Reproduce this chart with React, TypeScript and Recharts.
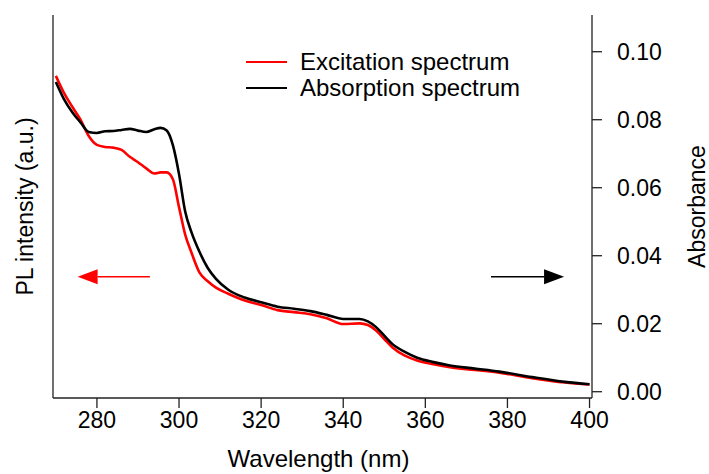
import React from 'react';
import { ComposedChart, Line, XAxis, YAxis, ReferenceLine, Legend } from 'recharts';

const wavelength = [270, 272, 274, 276, 278, 280, 282, 284, 286, 288, 290, 292, 294, 295.5, 297, 298.5, 300, 301.5, 303, 305, 307, 309, 312, 316, 320, 324, 328, 332, 336, 340, 344, 346, 348, 350, 352, 355, 358, 362, 366, 372, 378, 386, 394, 400];

const absorption = [0.0911, 0.0860, 0.0822, 0.0792, 0.0764, 0.0761, 0.0766, 0.0767, 0.0770, 0.0773, 0.0768, 0.0764, 0.0772, 0.0776, 0.0768, 0.0725, 0.0640, 0.0530, 0.0470, 0.0411, 0.0364, 0.0332, 0.0300, 0.0277, 0.0263, 0.0250, 0.0244, 0.0237, 0.0226, 0.0214, 0.0214, 0.0207, 0.0190, 0.0165, 0.0140, 0.0117, 0.0100, 0.0087, 0.0077, 0.0068, 0.0059, 0.0043, 0.0029, 0.0022];

const excitation = [0.0929, 0.0878, 0.0838, 0.0800, 0.0752, 0.0726, 0.0720, 0.0718, 0.0711, 0.0691, 0.0675, 0.0657, 0.0642, 0.0645, 0.0645, 0.0625, 0.0543, 0.0462, 0.0410, 0.0350, 0.0325, 0.0306, 0.0288, 0.0268, 0.0255, 0.0240, 0.0234, 0.0228, 0.0216, 0.0199, 0.0201, 0.0196, 0.0180, 0.0155, 0.0130, 0.0106, 0.0092, 0.0081, 0.0072, 0.0064, 0.0056, 0.0040, 0.0027, 0.0021];

const xTicks = [280, 300, 320, 340, 360, 380, 400];
const yTicks = [0, 0.02, 0.04, 0.06, 0.08, 0.1];

const seriesNames = { excitation: 'Excitation spectrum', absorption: 'Absorption spectrum' };

const data = wavelength.map((w, i) => ({ w, excitation: excitation[i], absorption: absorption[i] }));

const FONT = '"Liberation Sans", Arial, sans-serif';
const X_DOMAIN: [number, number] = [269.3, 400.6];
const Y_DOMAIN: [number, number] = [-0.00185, 0.1108];
const AXIS_COLOR = '#222';

const Arrow = (color: string) => (props: any) => {
  const { x1, y1, x2, y2 } = props;
  if (x1 == null || x2 == null) return null;
  const dir = x2 > x1 ? 1 : -1;
  const headLen = 20;
  const half = 7.5;
  const baseX = x2 - dir * headLen;
  return (
    <g>
      <line x1={x1} y1={y1} x2={baseX} y2={y2} stroke={color} strokeWidth={1.6} />
      <polygon points={`${x2},${y2} ${baseX},${y2 - half} ${baseX},${y2 + half}`} fill={color} />
    </g>
  );
};

const LegendContent = () => (
  <div style={{ fontFamily: FONT, fontSize: 24, color: '#000', lineHeight: '26px' }}>
    {[
      { name: seriesNames.excitation, color: '#ff0000' },
      { name: seriesNames.absorption, color: '#000000' },
    ].map((it) => (
      <div key={it.name} style={{ display: 'flex', alignItems: 'center', height: 26, whiteSpace: 'nowrap' }}>
        <div style={{ width: 41, height: 2.5, background: it.color, marginRight: 13 }} />
        <span>{it.name}</span>
      </div>
    ))}
  </div>
);

export default function App() {
  return (
    <div style={{ position: 'absolute', left: 0, top: 0, width: 709, height: 474, overflow: 'hidden', background: '#fff' }}>
      <ComposedChart width={709} height={474} data={data} margin={{ top: 15, right: 0, bottom: 0, left: 0 }}>
        <XAxis
          dataKey="w"
          type="number"
          domain={X_DOMAIN}
          ticks={xTicks}
          allowDataOverflow
          tickSize={10}
          tickMargin={4}
          height={76}
          stroke={AXIS_COLOR}
          axisLine={{ stroke: AXIS_COLOR, strokeWidth: 1.3 }}
          tickLine={{ stroke: AXIS_COLOR, strokeWidth: 1.3 }}
          tick={{ fill: '#000', fontSize: 23, fontFamily: FONT }}
          label={{ value: 'Wavelength (nm)', position: 'center', dy: 22, dx: -4, fill: '#000', fontSize: 24, fontFamily: FONT }}
        />
        <XAxis
          xAxisId="top"
          orientation="top"
          type="number"
          domain={X_DOMAIN}
          allowDataOverflow
          height={0}
          tick={false}
          tickLine={false}
          axisLine={{ stroke: AXIS_COLOR, strokeWidth: 1.3 }}
        />
        <YAxis
          yAxisId="left"
          orientation="left"
          type="number"
          domain={Y_DOMAIN}
          allowDataOverflow
          width={53}
          tick={false}
          tickLine={false}
          axisLine={{ stroke: AXIS_COLOR, strokeWidth: 1.3 }}
          label={{ value: 'PL intensity (a.u.)', angle: -90, position: 'center', dx: -2, fill: '#000', fontSize: 23, fontFamily: FONT }}
        />
        <YAxis
          yAxisId="right"
          orientation="right"
          type="number"
          domain={Y_DOMAIN}
          allowDataOverflow
          ticks={yTicks}
          width={117}
          tickSize={10}
          tickMargin={15}
          tickFormatter={(v: number) => v.toFixed(2)}
          axisLine={{ stroke: AXIS_COLOR, strokeWidth: 1.3 }}
          tickLine={{ stroke: AXIS_COLOR, strokeWidth: 1.3 }}
          tick={{ fill: '#000', fontSize: 23, fontFamily: FONT }}
          label={{ value: 'Absorbance', angle: -90, position: 'center', dx: 46, fill: '#000', fontSize: 23, fontFamily: FONT }}
        />
        <Legend
          layout="horizontal"
          verticalAlign="middle"
          align="center"
          content={<LegendContent />}
          wrapperStyle={{ position: 'absolute', left: 246, top: 49, width: 'auto' }}
        />
        <Line
          yAxisId="left"
          dataKey="excitation"
          name={seriesNames.excitation}
          type="monotone"
          stroke="#ff0000"
          strokeWidth={2.6}
          dot={false}
          isAnimationActive={false}
        />
        <Line
          yAxisId="right"
          dataKey="absorption"
          name={seriesNames.absorption}
          type="monotone"
          stroke="#000000"
          strokeWidth={2.6}
          dot={false}
          isAnimationActive={false}
        />
        <ReferenceLine
          yAxisId="right"
          segment={[{ x: 292.9, y: 0.0338 }, { x: 275.3, y: 0.0338 }]}
          shape={Arrow('#ff0000')}
        />
        <ReferenceLine
          yAxisId="right"
          segment={[{ x: 376.0, y: 0.0338 }, { x: 393.8, y: 0.0338 }]}
          shape={Arrow('#000000')}
        />
      </ComposedChart>
    </div>
  );
}
